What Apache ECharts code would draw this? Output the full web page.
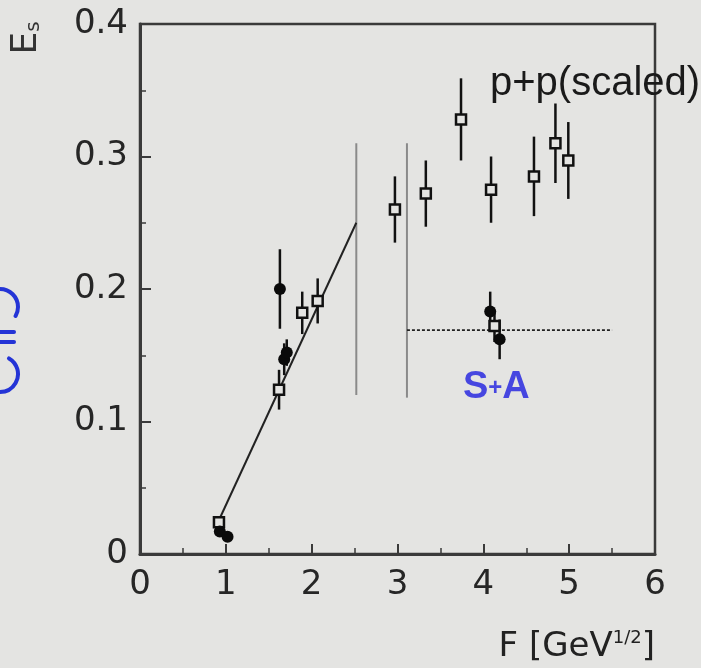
<!DOCTYPE html>
<html>
<head>
<meta charset="utf-8">
<script src="https://cdn.jsdelivr.net/npm/echarts@6/dist/echarts.min.js"></script>
<style>
html,body{margin:0;padding:0;background:#e4e4e2;}
#c{width:701px;height:668px;}
</style>
</head>
<body>
<div id="c"></div>
<script>
// p+p (scaled) — open squares
const ppX   = [0.92, 1.62, 1.89, 2.07, 2.97, 3.33, 3.74, 4.09, 4.13, 4.59, 4.84, 4.99];
const ppY   = [0.024, 0.124, 0.182, 0.191, 0.260, 0.272, 0.328, 0.275, 0.172, 0.285, 0.310, 0.297];
const ppErr = [0.004, 0.015, 0.016, 0.017, 0.025, 0.025, 0.031, 0.025, 0.012, 0.030, 0.030, 0.029];
// S+A — filled circles
const saX   = [0.93, 1.02, 1.63, 1.68, 1.71, 4.08, 4.19];
const saY   = [0.017, 0.013, 0.200, 0.147, 0.152, 0.183, 0.162];
const saErr = [0.0, 0.0, 0.030, 0.012, 0.010, 0.015, 0.015];
// lines
const fitLine   = [[0.93, 0.027], [2.52, 0.250]];
const vLine1    = [[2.52, 0.120], [2.52, 0.310]];
const vLine2    = [[3.11, 0.118], [3.11, 0.310]];
const saLevel   = [[3.11, 0.169], [5.50, 0.169]];
// axis ticks
const xTicks = [0, 1, 2, 3, 4, 5, 6];
const yTicks = [0, 0.1, 0.2, 0.3, 0.4];

const BG = '#e4e4e2';
const AX = '#3a3a3a';
const FONT = 'DejaVu Sans';

const pts = (xs, ys) => xs.map((x, i) => [x, ys[i]]);
const errs = (xs, ys, es) => xs.map((x, i) => [x, ys[i] - es[i], ys[i] + es[i]]).filter((d, i) => es[i] > 0);

function errRender(params, api) {
  const x = api.value(0), lo = api.value(1), hi = api.value(2);
  const p1 = api.coord([x, lo]), p2 = api.coord([x, hi]);
  return {type: 'line', shape: {x1: p1[0], y1: p1[1], x2: p2[0], y2: p2[1]},
          style: {stroke: '#111', lineWidth: 2.5}};
}

const chart = echarts.init(document.getElementById('c'), null, {renderer: 'canvas'});
const lineSeries = (data, color, width, type) => ({
  type: 'line', data: data, symbol: 'none', silent: true, animation: false,
  lineStyle: {color: color, width: width, type: type || 'solid'}, z: 2
});

chart.setOption({
  backgroundColor: BG,
  animation: false,
  grid: {left: 140, right: 46, top: 24, bottom: 114, show: true, borderColor: AX, borderWidth: 2.5, backgroundColor: 'transparent'},
  xAxis: {
    type: 'value', min: xTicks[0], max: xTicks[xTicks.length - 1], interval: 1,
    axisLine: {show: true, lineStyle: {color: AX, width: 3}},
    axisTick: {show: true, inside: true, length: 10, lineStyle: {color: AX, width: 2}},
    minorTick: {show: true, splitNumber: 2, length: 6, lineStyle: {color: AX, width: 1.5}},
    splitLine: {show: false},
    axisLabel: {color: '#262626', fontSize: 34, fontFamily: FONT, margin: 14,
      formatter: v => String(v)}
  },
  yAxis: {
    type: 'value', min: yTicks[0], max: yTicks[yTicks.length - 1], interval: 0.1,
    axisLine: {show: true, lineStyle: {color: AX, width: 3}},
    axisTick: {show: true, inside: true, length: 11, lineStyle: {color: AX, width: 2}},
    minorTick: {show: true, splitNumber: 2, length: 6, lineStyle: {color: AX, width: 1.5}},
    splitLine: {show: false},
    axisLabel: {color: '#262626', fontSize: 34, fontFamily: FONT, margin: 12,
      formatter: v => v === 0 ? '0' : v.toFixed(1)}
  },
  series: [
    lineSeries(vLine1, '#8a8a8a', 2),
    lineSeries(vLine2, '#8a8a8a', 2),
    lineSeries(saLevel, '#222', 1.8, [3, 2]),
    lineSeries(fitLine, '#222', 2),
    {type: 'custom', renderItem: errRender, data: errs(ppX, ppY, ppErr), z: 3, silent: true},
    {type: 'custom', renderItem: errRender, data: errs(saX, saY, saErr), z: 3, silent: true},
    {type: 'scatter', data: pts(ppX, ppY), symbol: 'rect', symbolSize: 10, z: 4,
      itemStyle: {color: BG, borderColor: '#111', borderWidth: 2.5, opacity: 1}},
    {type: 'scatter', data: pts(saX, saY), symbol: 'circle', symbolSize: 12, z: 5,
      itemStyle: {color: '#0a0a0a', opacity: 1}}
  ],
  graphic: [
    {type: 'text', x: 27, y: 38, rotation: Math.PI / 2, z: 10,
      style: {text: '{a|E}{b|s}', align: 'center', verticalAlign: 'middle',
        rich: {a: {fontSize: 36, fontFamily: FONT, fill: '#333'}, b: {fontSize: 20, fontFamily: FONT, fill: '#333', padding: [14, 0, 0, 0]}}}},
    {type: 'text', x: 655, y: 647, z: 10,
      style: {text: 'F [GeV{s|1/2}]', align: 'right', verticalAlign: 'middle',
        fontSize: 34, fontFamily: FONT, fill: '#222',
        rich: {s: {fontSize: 18, fontFamily: FONT, fill: '#222', padding: [0, 0, 18, 0]}}}},
    {type: 'text', x: 490, y: 84, z: 10,
      style: {text: 'p+p(scaled)', align: 'left', verticalAlign: 'middle',
        fontSize: 40, fontFamily: 'Liberation Sans', fill: '#1a1a1a'}},
    {type: 'text', x: 463, y: 388, z: 10,
      style: {text: 'S{p|+}A', align: 'left', verticalAlign: 'middle',
        fontSize: 38, fontWeight: 'bold', fontFamily: 'Liberation Sans', fill: '#4646e0',
        rich: {p: {fontSize: 24, fontWeight: 'bold', fontFamily: 'Liberation Sans', fill: '#4646e0'}}}},
    // handwritten blue marks at the left edge
    {type: 'arc', z: 10, shape: {cx: 0, cy: 307, r: 18, startAngle: -Math.PI / 2, endAngle: Math.PI / 6},
      style: {stroke: '#2434d6', lineWidth: 4, fill: null, lineCap: 'round'}},
    {type: 'line', z: 10, shape: {x1: 0, y1: 332, x2: 14, y2: 332}, style: {stroke: '#2434d6', lineWidth: 4, lineCap: 'round'}},
    {type: 'line', z: 10, shape: {x1: 0, y1: 342, x2: 14, y2: 342}, style: {stroke: '#2434d6', lineWidth: 4, lineCap: 'round'}},
    {type: 'arc', z: 10, shape: {cx: 0, cy: 374, r: 18, startAngle: -Math.PI / 3, endAngle: Math.PI / 2},
      style: {stroke: '#2434d6', lineWidth: 4, fill: null, lineCap: 'round'}}
  ]
});
</script>
</body>
</html>
